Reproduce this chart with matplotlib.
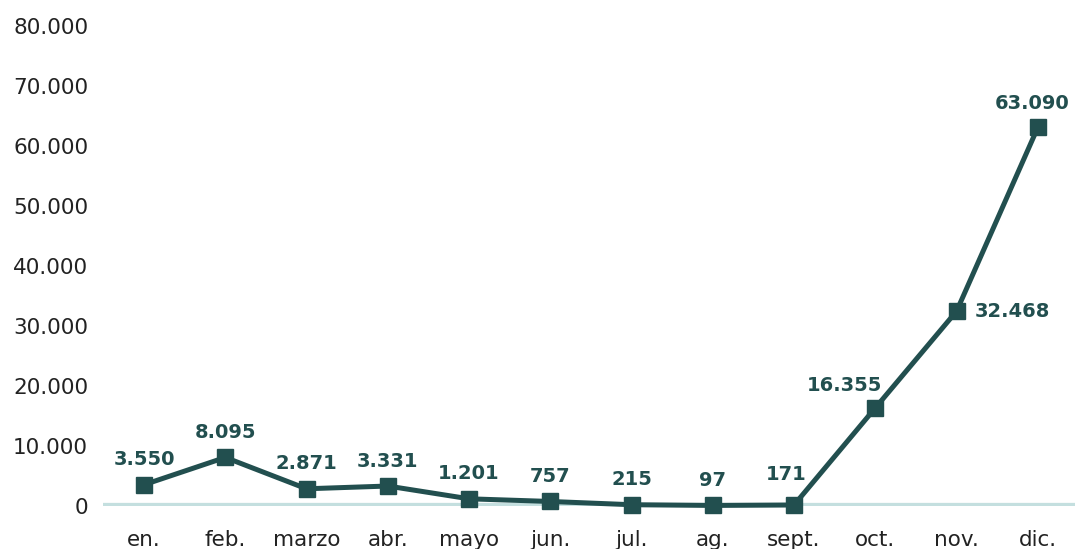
import numpy as np
import matplotlib.pyplot as plt

# datos mensuales
meses = ["en.", "feb.", "marzo", "abr.", "mayo", "jun.", "jul.", "ag.",
         "sept.", "oct.", "nov.", "dic."]
valores = [3550, 8095, 2871, 3331, 1201, 757, 215, 97, 171, 16355, 32468, 63090]
etiquetas = ["3.550", "8.095", "2.871", "3.331", "1.201", "757", "215", "97",
             "171", "16.355", "32.468", "63.090"]
y_ticks = [0, 10000, 20000, 30000, 40000, 50000, 60000, 70000, 80000]
y_tick_labels = ["0", "10.000", "20.000", "30.000", "40.000", "50.000",
                 "60.000", "70.000", "80.000"]

color_linea = "#224f4f"
color_eje = "#c4dfdf"

plt.rcParams['font.family'] = ['DejaVu Sans']

fig = plt.figure(figsize=(10.75, 5.49), dpi=100)
ax = fig.add_axes([0.0962, 0.0783, 0.907, 0.8743])

x = np.arange(len(meses))
ax.plot(x, valores, color=color_linea, linewidth=3.6, marker="s",
        markersize=11, zorder=3, clip_on=False)

ax.axhline(0, color=color_eje, linewidth=4.5, zorder=1)

# desplazamientos de las etiquetas en puntos
offsets = [(0, 18)] * 12
offsets[8] = (-6, 22)
offsets[9] = (-22, 16)
offsets[10] = (13, 0)
offsets[11] = (-4, 17)

for i, (v, t) in enumerate(zip(valores, etiquetas)):
    ax.annotate(t, (x[i], v), xytext=offsets[i], textcoords="offset points",
                ha="left" if i == 10 else "center", va="center",
                fontsize=14, fontweight="bold", color=color_linea)

ax.set_xlim(-0.5, 11.5)
ax.set_ylim(0, 80000)
ax.set_xticks(x)
ax.set_xticklabels(meses)
ax.set_yticks(y_ticks)
ax.set_yticklabels(y_tick_labels)
ax.tick_params(axis="both", length=0, labelsize=15.5, labelcolor="#222222")
ax.tick_params(axis="x", pad=17)
ax.tick_params(axis="y", pad=11)

for s in ax.spines.values():
    s.set_visible(False)

plt.savefig("out.png", dpi=100)
